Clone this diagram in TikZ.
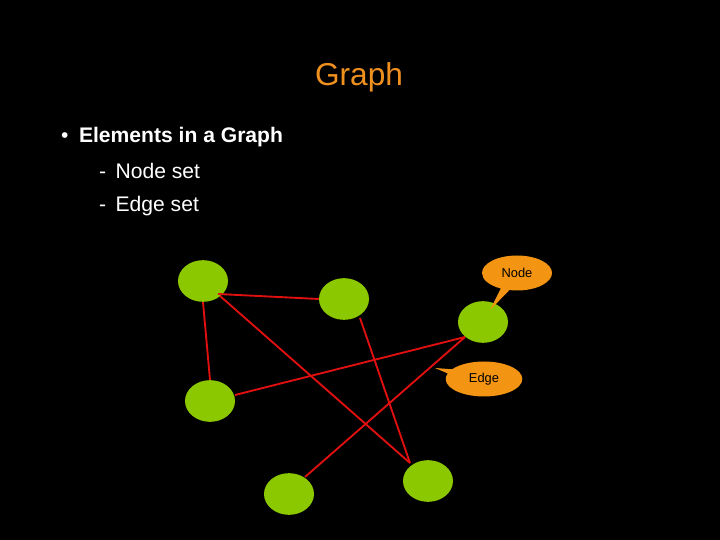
\documentclass[tikz,border=0pt]{standalone}
\usepackage{fontspec}
\setmainfont{Liberation Sans}
\usetikzlibrary{shapes.geometric,shapes.callouts}
\definecolor{color_node}{HTML}{8CC800}
\definecolor{color_edge}{HTML}{E01010}
\definecolor{color_title}{HTML}{F0901E}
\definecolor{color_callout}{HTML}{F39512}
\tikzset{
  gnode/.style={ellipse, fill=color_node, minimum width=1.5cm, minimum height=1.25cm, inner sep=0pt},
  gedge/.style={color_edge, line width=1.6pt},
  tip/.style={ellipse callout, fill=color_callout, minimum width=2.1cm, minimum height=1.05cm, font=\fontsize{11}{13}\selectfont}
}
\begin{document}
\begin{tikzpicture}[x=0.03cm, y=-0.03cm]
    \fill[black] (0,0) rectangle (720,540);
    \useasboundingbox (0,0) rectangle (720,540);
    % title and bullets
    \node[color_title, font=\fontsize{27}{32}\selectfont] (title) at (359,77) {Graph};
    \node[white, anchor=west, font=\fontsize{18}{22}\selectfont] (bul) at (57,137) {•\hspace{0.5em}\textbf{Elements in a Graph}};
    \node[white, anchor=west, font=\fontsize{18}{22}\selectfont] (nset) at (95,171) {-\hspace{0.45em}Node set};
    \node[white, anchor=west, font=\fontsize{18}{22}\selectfont] (eset) at (95,206) {-\hspace{0.45em}Edge set};
    % graph nodes
    \node[gnode] (a) at (203,281) {};
    \node[gnode] (b) at (344,299) {};
    \node[gnode] (c) at (483,322) {};
    \node[gnode] (d) at (210,401) {};
    \node[gnode] (e) at (289,494) {};
    \node[gnode] (f) at (428,481) {};
    % edges
    \coordinate (cin) at (465,337);
    \draw[gedge] (218,294) -- (b.west);
    \draw[gedge] (a.south) -- (d.north);
    \draw[gedge] (220,296) -- (410,463);
    \draw[gedge] (235,395) -- (cin);
    \draw[gedge] (305,477) -- (cin);
    \draw[gedge] (360,318) -- (410,463);
    % callouts
    \coordinate (pn) at (490,310);
    \coordinate (pe) at (435,368);
    \node[tip, callout absolute pointer=(pn)] (tnode) at (517,273) {Node};
    \node[tip, callout absolute pointer=(pe), minimum width=2.3cm] (tedge) at (484,379) {Edge};
\end{tikzpicture}
\end{document}
